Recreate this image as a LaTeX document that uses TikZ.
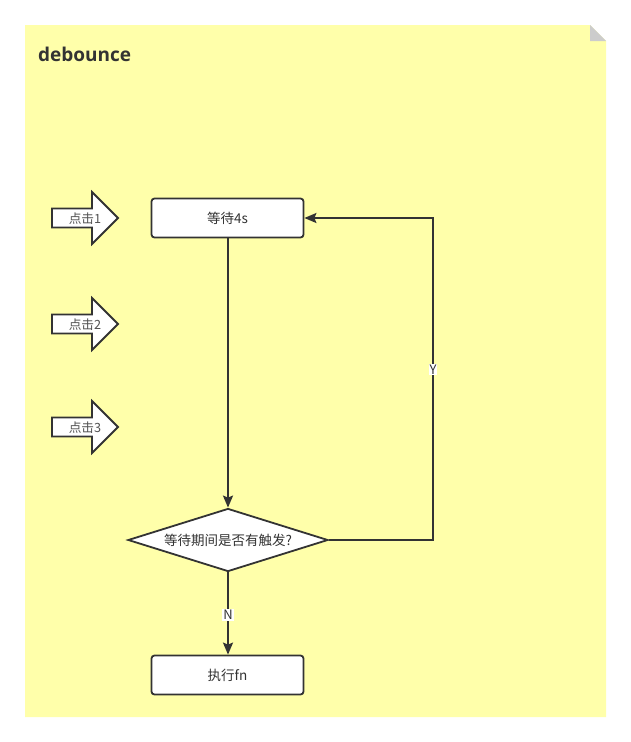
\documentclass[tikz,border=0pt]{standalone}
\usepackage{fontspec}
\setmainfont{Noto Sans CJK SC}
\newfontfamily\titlefont{Open Sans}[BoldFont={Open Sans Bold}]
\usetikzlibrary{arrows.meta,shapes.geometric}
\definecolor{bgyellow}{HTML}{FFFFAA}
\definecolor{ink}{HTML}{333333}
\definecolor{fold}{HTML}{CCCCCC}
\begin{document}
\begin{tikzpicture}[x=1pt,y=-1pt,
  every node/.style={font=\fontsize{13.5}{15}\selectfont, text=ink},
  proc/.style={draw=ink, line width=1.8pt, fill=white, rounded corners=3pt, minimum width=152pt, minimum height=39pt, inner sep=0pt},
  decide/.style={draw=ink, line width=1.8pt, fill=white, diamond, aspect=3.17, minimum width=200pt, minimum height=63pt, inner sep=0pt},
  conn/.style={draw=ink, line width=1.8pt, -{Stealth[length=12pt,width=10pt,inset=2pt]}},
  lbl/.style={fill=white, inner sep=1pt, font=\fontsize{13}{14}\selectfont},
  blockarrow/.style={draw=ink, line width=1.8pt, fill=white, line join=miter},
  clicktext/.style={font=\fontsize{12.7}{14}\selectfont, text=ink!85}
]
\useasboundingbox (0,0) rectangle (631,742);
% sheet
\fill[bgyellow] (25,25) -- (590,25) -- (606,41) -- (606,717) -- (25,717) -- cycle;
\fill[fold] (590,25) -- (606,41) -- (590,41) -- cycle;
\node[anchor=base west, font=\titlefont\bfseries\fontsize{19}{22}\selectfont, text=ink, inner sep=0pt] (title) at (38,61.5) {debounce};
% nodes
\node[proc] (wait) at (227.5,218) {等待4s};
\node[decide] (q) at (228,540) {等待期间是否有触发?};
\node[proc] (run) at (227.5,675) {执行fn};
% block arrows
\foreach \y/\t [count=\i] in {218/1,324/2,427/3}{
  \draw[blockarrow] (52,\y-9.5) -- (92,\y-9.5) -- (92,\y-26) -- (118,\y) -- (92,\y+26) -- (92,\y+9.5) -- (52,\y+9.5) -- cycle;
  \node[clicktext] (click\i) at (85,\y+1) {点击\t};
}
% connectors
\draw[conn] (wait.south -| q.north) -- (q.north);
\coordinate (yr) at (433,540);
\coordinate (yt) at (433,218);
\draw[conn] (q.east) -- (yr) -- node[lbl, pos=0.53] (ylab) {Y} (yt) -- (wait.east);
\draw[conn] (q.south) -- node[lbl, pos=0.52] (nlab) {N} (run.north -| q.south);
\end{tikzpicture}
\end{document}
